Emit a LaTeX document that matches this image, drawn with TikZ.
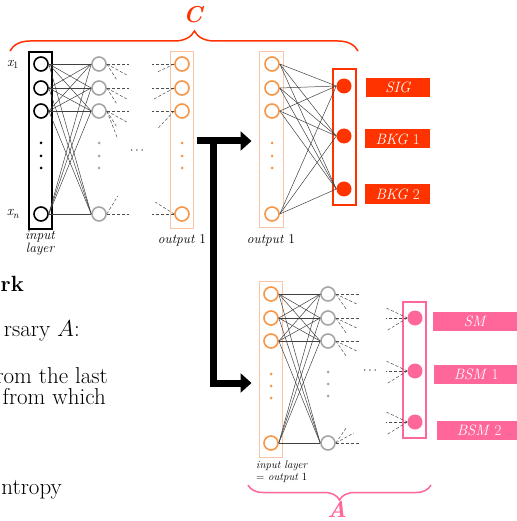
\RequirePackage{fix-cm}
\documentclass[tikz,border=0pt]{standalone}
\usepackage{fontspec}
\usetikzlibrary{arrows.meta,positioning,decorations.pathreplacing}
\definecolor{sigred}{HTML}{FF3300}
\definecolor{bsmpink}{HTML}{FF6699}
\definecolor{neuorange}{HTML}{F79646}
\definecolor{peach}{HTML}{F9C5A6}
\definecolor{hidgray}{HTML}{A6A6A6}

\begin{document}
\begin{tikzpicture}[
  x=1pt,y=-1pt,
  neuron/.style={circle,minimum size=14pt,inner sep=0pt,line width=1.6pt},
  inneu/.style={neuron,draw=black},
  hidneu/.style={neuron,draw=hidgray},
  orneu/.style={neuron,draw=neuorange},
  outdot/.style={circle,minimum size=15pt,inner sep=0pt},
  layer/.style={draw,inner sep=0pt,minimum width=23pt},
  vdot/.style={circle,inner sep=0pt,minimum size=3pt},
  tag/.style={anchor=west,minimum width=84pt,minimum height=19pt,inner sep=0pt,text=white,font=\fontsize{15}{17}\selectfont},
  link/.style={line width=0.5pt,draw=black!75},
  stub/.style={line width=0.5pt,draw=black!70,dash pattern=on 3pt off 2pt},
  lbl/.style={font=\fontsize{13.5}{15}\selectfont},
  slide/.style={anchor=base east,inner sep=0pt,font=\fontsize{23}{27}\selectfont},
  bigarr/.style={line width=7pt,-{Triangle[length=11pt,width=19pt]},shorten >=7pt},
  brc/.style={decorate,line width=1.5pt},
  netname/.style={font=\fontsize{23}{25}\selectfont\bfseries\itshape}
]
\useasboundingbox (0,0) rectangle (516,521);

% slide text behind the picture
\node[slide,anchor=base west,font=\fontsize{22}{26}\selectfont\bfseries] (t1) at (0.5,291) {rk};
\node[slide] (t2) at (80,336) {rsary $A$:};
\node[slide] (t3) at (108,383) {rom the last};
\node[slide] (t4) at (106,404) {from which};
\node[slide] (t5) at (62,494) {ntropy};

% classifier C
\node[layer,draw=black,line width=1.3pt,minimum height=177pt] (cin) at (40.5,140.5) {};
\node[layer,draw=peach,line width=1pt,minimum height=176pt] (cout) at (182,140) {};
\node[layer,draw=peach,line width=1pt,minimum width=24pt,minimum height=175pt] (pin) at (271,139.5) {};
\node[layer,draw=sigred,line width=1.5pt,minimum height=136pt] (pout) at (344.5,137) {};
\foreach \y [count=\i] in {64,88,111,214} {
  \node[inneu] (c\i) at (41,\y) {};
  \node[hidneu] (h\i) at (99,\y) {};
  \node[orneu] (o\i) at (182,\y) {};
  \node[orneu] (p\i) at (272,\y) {};
}
\foreach \y [count=\i] in {143,156,168} {
  \node[vdot,fill=black] (cd\i) at (41,\y) {};
  \node[vdot,fill=hidgray] (hd\i) at (99,\y) {};
  \node[vdot,fill=neuorange] (od\i) at (182,\y) {};
  \node[vdot,fill=neuorange] (pd\i) at (272,\y) {};
}
\foreach \y [count=\i] in {86,136,189}
  \node[outdot,fill=sigred] (s\i) at (344,\y) {};
\foreach \i in {1,...,4} {
  \foreach \j in {1,...,4}
    \draw[link] (c\i.east) -- (h\j.west);
  \foreach \j in {1,2,3}
    \draw[link] (p\i.east) -- (s\j.west);
}
\foreach \i in {1,2,3} {
  \draw[stub] (h\i.east) -- ++(22,0);
  \draw[stub] (h\i.east) -- ++(20,11);
  \draw[stub] (h\i.east) -- ++(10,16);
}
\draw[stub] (h3.east) -- ++(11,28);
\draw[stub] (h4.east) -- ++(22,0);
\draw[stub] (h4.east) -- ++(11,-18);
\foreach \i in {1,...,4}
  \draw[stub] (o\i.west) -- ++(-22,0);
\draw[stub] (o1.west) -- ++(-17,8);
\draw[stub] (o2.west) -- ++(-22,12);
\draw[stub] (o3.west) -- ++(-16,17);
\draw[stub] (o4.west) -- ++(-19,-12);
\node[font=\large] (cdots) at (137,151) {$\cdots$};

\node[lbl,font=\fontsize{14}{15}\selectfont\itshape] (x1) at (13,64) {x\textsubscript{\upshape 1}};
\node[lbl,font=\fontsize{14}{15}\selectfont\itshape] (xn) at (13,214) {x\textsubscript{n}};
\node[lbl,align=center,anchor=north,inner sep=1pt] (inlbl) at (40,230) {\itshape input\\[-2pt]\itshape layer};
\node[lbl] (olbl) at (182,240) {\textit{output} 1};
\node[lbl] (plbl) at (271,240) {\textit{output} 1};

\node[tag,fill=sigred,minimum width=64pt] (sig) at (366,87.5) {\textit{SIG}};
\node[tag,fill=sigred,minimum width=65pt] (bkg1) at (365,139) {\textit{BKG} 1};
\node[tag,fill=sigred,minimum width=65pt] (bkg2) at (365,194) {\textit{BKG} 2};

\coordinate (cl) at (10,51);
\coordinate (cr) at (358,51);
\draw[brc,draw=sigred,decoration={brace,amplitude=20pt,aspect=0.53}] (cl) -- (cr);
\node[netname,text=sigred] (clbl) at (193,15) {C};

% adversary A
\node[layer,draw=peach,line width=1pt,minimum height=176pt] (ain) at (270.5,369) {};
\node[layer,draw=bsmpink,line width=1.5pt,minimum height=136pt] (aout) at (414.5,370) {};
\foreach \y [count=\i] in {294,318,341,443} {
  \node[orneu] (q\i) at (271,\y) {};
  \node[hidneu] (g\i) at (328,\y) {};
}
\foreach \y [count=\i] in {374,386,398} {
  \node[vdot,fill=neuorange] (qd\i) at (271,\y) {};
  \node[vdot,fill=hidgray] (gd\i) at (328,\y-2) {};
}
\foreach \y [count=\i] in {318,371,422}
  \node[outdot,fill=bsmpink] (m\i) at (415,\y) {};
\foreach \i in {1,...,4}
  \foreach \j in {1,...,4}
    \draw[link] (q\i.east) -- (g\j.west);
\foreach \i in {1,2,3} {
  \draw[stub] (g\i.east) -- ++(24,0);
  \draw[stub] (g\i.east) -- ++(21,10);
  \draw[stub] (g\i.east) -- ++(11,16);
  \draw[stub] (m\i.west) -- ++(-21,-10);
  \draw[stub] (m\i.west) -- ++(-21,0);
  \draw[stub] (m\i.west) -- ++(-21,13);
}
\draw[stub] (g4.east) -- ++(24,0);
\draw[stub] (g4.east) -- ++(18,-10);
\draw[stub] (g4.east) -- ++(11,-16);
\node[font=\large] (adots) at (370,371) {$\cdots$};

\node[anchor=north west,inner sep=0pt,align=left,font=\fontsize{11}{11.5}\selectfont] (ainlbl) at (256,461) {\textit{input layer}\\= \textit{output} 1};

\node[tag,fill=bsmpink] (sm) at (433,321) {\textit{SM}};
\node[tag,fill=bsmpink] (bsm1) at (434,374) {\textit{BSM} 1};
\node[tag,fill=bsmpink] (bsm2) at (437,430) {\textit{BSM} 2};

\coordinate (al) at (248,485);
\coordinate (ar) at (431,485);
\draw[brc,draw=bsmpink,decoration={brace,amplitude=15pt}] (ar) -- (al);
\node[netname,text=bsmpink] (albl) at (337,509) {A};

% passing output 1 on
\coordinate (tee) at (197,141);
\coordinate (teemid) at (213,141);
\coordinate (elbow) at (213,383);
\draw[bigarr] (tee) -- (tee -| pin.west);
\draw[bigarr] (teemid) -- (elbow) -- (elbow -| ain.west);
\end{tikzpicture}
\end{document}
